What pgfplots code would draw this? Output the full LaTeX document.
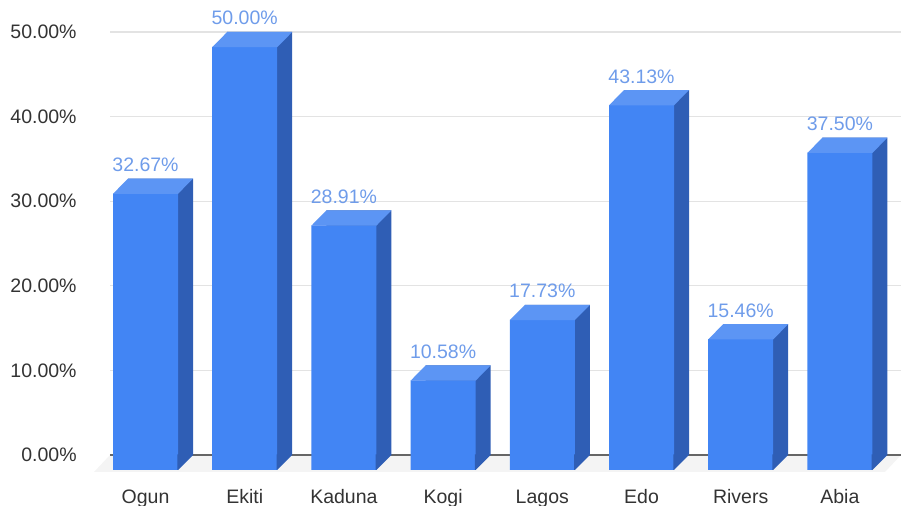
\documentclass[border=0pt]{standalone}
\usepackage{fontspec}
\setmainfont{Liberation Sans}
\usepackage{pgfplots}
\pgfplotsset{compat=1.18}
\usepackage{pgfplotstable}
\definecolor{front}{HTML}{4285F4}
\definecolor{topc}{HTML}{5C95F4}
\definecolor{side}{HTML}{2F5EB5}
\definecolor{lab}{HTML}{6F9CEA}
\definecolor{tickc}{HTML}{333333}
\definecolor{gridc}{HTML}{E3E3E3}
\definecolor{floorc}{HTML}{F4F4F4}
\definecolor{axisc}{HTML}{666666}

\pgfdeclareplotmark{topface}{%
 \pgfpathmoveto{\pgfqpoint{-16.25pt}{-7.6pt}}%
 \pgfpathlineto{\pgfqpoint{16.25pt}{-7.6pt}}%
 \pgfpathlineto{\pgfqpoint{23.75pt}{0pt}}%
 \pgfpathlineto{\pgfqpoint{-8.75pt}{0pt}}%
 \pgfpathclose
 \pgfusepathqfill}
\pgfdeclareplotmark{sidefoot}{%
 \pgfpathmoveto{\pgfqpoint{15.9pt}{-7.5pt}}%
 \pgfpathlineto{\pgfqpoint{16.25pt}{-7.5pt}}%
 \pgfpathlineto{\pgfqpoint{23.75pt}{0pt}}%
 \pgfpathlineto{\pgfqpoint{23.75pt}{0.3pt}}%
 \pgfpathlineto{\pgfqpoint{15.9pt}{0.3pt}}%
 \pgfpathclose
 \pgfusepathqfill}

\pgfplotstableread{
x v
0 32.67
1 50.00
2 28.91
3 10.58
4 17.73
5 43.13
6 15.46
7 37.50
}\datatable

\begin{document}
\begin{tikzpicture}
\begin{axis}[
  scale only axis, width=395.5pt, height=211.5pt,
  xmin=-0.358, xmax=7.616, ymin=0, ymax=50,
  clip=false,
  axis line style={draw=none},
  major tick length=0pt,
  ymajorgrids, grid style={draw=gridc, line width=0.6pt},
  ytick={0,10,20,30,40,50},
  xtick={0,1,2,3,4,5,6,7},
  xticklabels={Ogun,Ekiti,Kaduna,Kogi,Lagos,Edo,Rivers,Abia},
  /pgf/number format/assume math mode=true,
  font=\fontsize{9.75}{11}\selectfont,
  ticklabel style={text=tickc, font=\fontsize{9.75}{11}\selectfont},
  yticklabel={\pgfmathprintnumber[fixed,fixed zerofill,precision=2]{\tick}\%},
  yticklabel style={anchor=east, inner sep=0pt, xshift=-16.5pt},
  xticklabel style={anchor=base, inner sep=0pt, yshift=-24.5pt},
]
\fill[floorc] (rel axis cs:0,0) -- (rel axis cs:1,0) -- ++(-8pt,-8.5pt) -- ([shift={(-8pt,-8.5pt)}]rel axis cs:0,0) -- cycle;
\draw[axisc, line width=0.7pt] (rel axis cs:0,0) -- (rel axis cs:1,0);
% side (back) bars
\addplot[ybar, bar width=32.5pt, bar shift=7.5pt, fill=side, draw=none] table[x=x,y=v]{\datatable};
% bottom of side face
\addplot[only marks, mark=sidefoot, mark options={fill=side, draw=none}] table[x=x,y expr=0]{\datatable};
% front faces
\addplot[ybar, bar width=32.5pt, bar shift=0pt, fill=front, draw=none, yshift=-7.5pt] table[x=x,y=v]{\datatable};
% top faces and value labels
\addplot[only marks, mark=topface, mark options={fill=topc, draw=none},
  point meta=explicit,
  nodes near coords={\pgfmathprintnumber[fixed,fixed zerofill,precision=2]{\pgfplotspointmeta}\%},
  every node near coord/.style={anchor=base, yshift=3.5pt, inner sep=0pt, text=lab, font=\fontsize{9.75}{11}\selectfont}
] table[x=x,y=v,meta=v]{\datatable};
\end{axis}
\pgfresetboundingbox
\path (-55pt,-25.5pt) rectangle (395.5pt,227.5pt);
\end{tikzpicture}
\end{document}
